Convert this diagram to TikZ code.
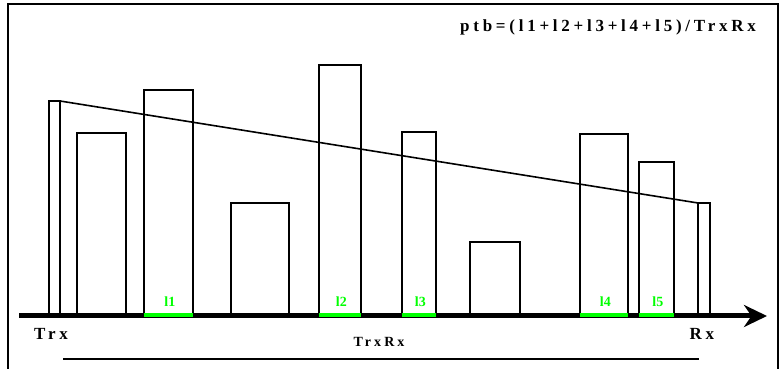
\documentclass[tikz,border=0pt]{standalone}
\usepackage{fontspec}
\setmainfont{Liberation Serif}
\newfontfamily\spaced[LetterSpace=22]{Liberation Serif}
\usepackage{xcolor}
\usepackage{tikz}
\usetikzlibrary{arrows.meta,positioning}
\definecolor{linkgreen}{HTML}{00FF00}

\begin{document}
\begin{tikzpicture}[
  x=1pt,y=1pt,
  bldg/.style={
    draw=black,
    line width=1.6pt,
    inner sep=0pt,
    outer sep=0pt,
    anchor=south west
  },
  seg/.style={draw=linkgreen,line width=4pt},
  seglabel/.style={text=linkgreen,inner sep=0pt,font=\bfseries\fontsize{14}{14}\selectfont},
  tag/.style={inner sep=0pt,font=\spaced\bfseries\fontsize{17}{17}\selectfont},
  axis/.style={-{Stealth[length=23pt,width=22pt]},line width=5pt},
  thinline/.style={line width=1.6pt}
]
\useasboundingbox (0,-53) rectangle (782,316);

% Frame
\draw[thinline] (8,-60) |- (778,312) -- (778,-60);

% 1. Antennas and buildings
\node[bldg,minimum width=11pt,minimum height=215pt] (tx) at (49,0) {};
\node[bldg,minimum width=49pt,minimum height=183pt] (b1) at (77,0) {};
\node[bldg,minimum width=49pt,minimum height=226pt] (b2) at (144,0) {};
\node[bldg,minimum width=58pt,minimum height=113pt] (b3) at (231,0) {};
\node[bldg,minimum width=42pt,minimum height=251pt] (b4) at (319,0) {};
\node[bldg,minimum width=34pt,minimum height=184pt] (b5) at (402,0) {};
\node[bldg,minimum width=50pt,minimum height=74pt] (b6) at (470,0) {};
\node[bldg,minimum width=48pt,minimum height=182pt] (b7) at (580,0) {};
\node[bldg,minimum width=35pt,minimum height=154pt] (b8) at (639,0) {};
\node[bldg,minimum width=12pt,minimum height=113pt] (rx) at (698,0) {};

% 2. Ground axis
\coordinate (o) at (19,0);
\coordinate (end) at (767,0);
\draw[axis] (o) -- (end);

% 3. Obstructed lengths
\draw[seg] ([yshift=1pt]b2.south west) -- ([yshift=1pt]b2.south east);
\draw[seg] ([yshift=1pt]b4.south west) -- ([yshift=1pt]b4.south east);
\draw[seg] ([yshift=1pt]b5.south west) -- ([yshift=1pt]b5.south east);
\draw[seg] ([yshift=1pt]b7.south west) -- ([yshift=1pt]b7.south east);
\draw[seg] ([yshift=1pt]b8.south west) -- ([yshift=1pt]b8.south east);
\node[seglabel,above left=9pt and -7pt of b2.south] (l1) {l1};
\node[seglabel,above left=9pt and -7pt of b4.south] (l2) {l2};
\node[seglabel,above left=9pt and -7pt of b5.south] (l3) {l3};
\node[seglabel,above left=9pt and -7pt of b7.south] (l4) {l4};
\node[seglabel,above left=9pt and -7pt of b8.south] (l5) {l5};

% 4. Direct ray
\draw[thinline] (tx.north east) -- (rx.north west);

% 5. Labels
\node[tag] (trx) at (51,-18) {Trx};
\node[tag] (rxl) at (702,-18) {Rx};
\node[tag,font=\spaced\bfseries\fontsize{14}{14}\selectfont] (dist) at (379,-26) {TrxRx};
\coordinate (ds) at (63,-43);
\coordinate (de) at (699,-43);
\draw[thinline] (ds) -- (de);
\node[tag] (ptb) at (608,289) {ptb=(l1+l2+l3+l4+l5)/TrxRx};

\end{tikzpicture}
\end{document}
